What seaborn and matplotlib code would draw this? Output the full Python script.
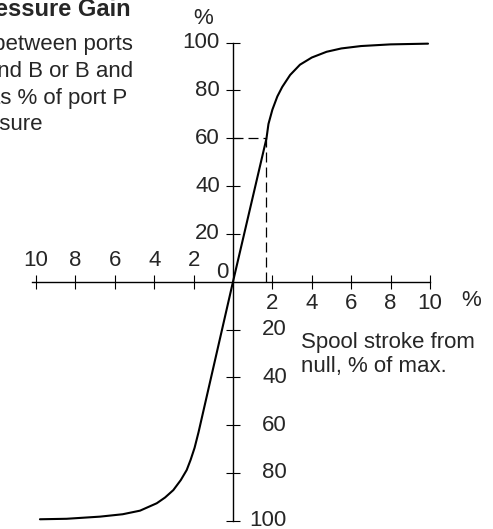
import matplotlib
matplotlib.use("Agg")
import matplotlib.pyplot as plt
import seaborn as sns

# --- data ---
stroke = [-9.8, -8.45, -6.75, -5.6, -4.72, -3.87, -3.45, -3.03, -2.65, -2.35, -2.15, -1.95, -1.75,
          0.0, 1.7, 1.8, 2.0, 2.25, 2.5, 2.9, 3.4, 4.0, 4.75, 5.5, 6.5, 8.0, 9.9]
gain = [-99.4, -99.2, -98.3, -97.3, -95.8, -92.7, -90.3, -87.2, -83.0, -78.8, -74.5, -69.5, -63.0,
        0.0, 60.0, 66.0, 72.0, 77.5, 81.5, 86.5, 90.8, 93.8, 96.2, 97.6, 98.6, 99.3, 99.6]

knee_stroke = 1.7
knee_gain = 60

x_ticks = [-10, -8, -6, -4, -2, 2, 4, 6, 8, 10]
x_labels = ["10", "8", "6", "4", "2", "2", "4", "6", "8", "10"]
y_ticks = [-100, -80, -60, -40, -20, 20, 40, 60, 80, 100]
y_labels = ["100", "80", "60", "40", "20", "20", "40", "60", "80", "100"]

title = "Pressure Gain"
desc_lines = ["Pressure between ports", "A and B or B and", "A as % of port P", "pressure"]
xlabel_lines = ["Spool stroke from", "null, % of max."]

# --- figure ---
sns.set_style("white")
plt.rcParams['font.family'] = ['Liberation Sans', 'DejaVu Sans']

W, H = 493, 529
fig = plt.figure(figsize=(W / 100, H / 100), dpi=100)
ax = fig.add_axes([0, 0, 1, 1])

# pixel mapping: origin at (233, 281.7), 19.7 px per x unit, 2.39 px per y unit
x0, y0, sx, sy = 233.0, 281.7, 19.7, 2.39
ax.set_xlim(-x0 / sx, (W - x0) / sx)
ax.set_ylim(-(H - y0) / sy, y0 / sy)

sns.lineplot(x=stroke, y=gain, sort=False, estimator=None, color="black", linewidth=1.5, ax=ax)

# dashed guide at the knee
ax.plot([knee_stroke, knee_stroke], [0, knee_gain], color="black", linewidth=0.9, linestyle=(0, (8, 4)))
ax.plot([0, knee_stroke], [knee_gain, knee_gain], color="black", linewidth=0.9, linestyle=(0, (8, 4)))

# axes through the origin
for s in ["top", "right"]:
    ax.spines[s].set_visible(False)
ax.spines["left"].set_position(("data", 0))
ax.spines["bottom"].set_position(("data", 0))
ax.spines["left"].set_bounds(-100, 100)
ax.spines["bottom"].set_bounds(-10.2, 10)
for s in ["left", "bottom"]:
    ax.spines[s].set_linewidth(1.0)
    ax.spines[s].set_color("black")

ax.set_xticks(x_ticks)
ax.set_yticks(y_ticks)
ax.set_xticklabels([])
ax.set_yticklabels([])
ax.tick_params(bottom=True, left=True, direction="inout", length=9.4, width=0.8, color="black")

fs = 16
# x tick labels: negative side above the axis, positive side below
for t, lab in zip(x_ticks, x_labels):
    yy = 8.7 if t < 0 else -9.1
    ax.text(t, yy, lab, ha="center", va="center", fontsize=fs)
# y tick labels: positive side to the left, negative side to the right
for t, lab in zip(y_ticks, y_labels):
    if t > 0:
        ax.text(-0.66, t, lab, ha="right", va="center", fontsize=fs)
    else:
        ax.text(2.73, t, lab, ha="right", va="center", fontsize=fs)
ax.text(-0.24, 3.85, "0", ha="right", va="center", fontsize=fs)
ax.text(-1.52, 110, "%", ha="center", va="center", fontsize=fs)
ax.text(12.08, -7.7, "%", ha="center", va="center", fontsize=fs)

ax.text(3.43, -27.8, xlabel_lines[0], ha="left", va="baseline", fontsize=fs)
ax.text(3.43, -37.7, xlabel_lines[1], ha="left", va="baseline", fontsize=fs)

# title block, cut off at the left edge like the source
fig.text(131 / W, 1 - 16 / H, title, ha="right", va="baseline", fontsize=17, fontweight="bold")
desc_right = [132.7, 132.7, 127.7, 42.7]
desc_base = [50, 77, 104, 130]
for line, r, b in zip(desc_lines, desc_right, desc_base):
    fig.text(r / W, 1 - b / H, line, ha="right", va="baseline", fontsize=fs)

fig.savefig("out.png", dpi=100)
